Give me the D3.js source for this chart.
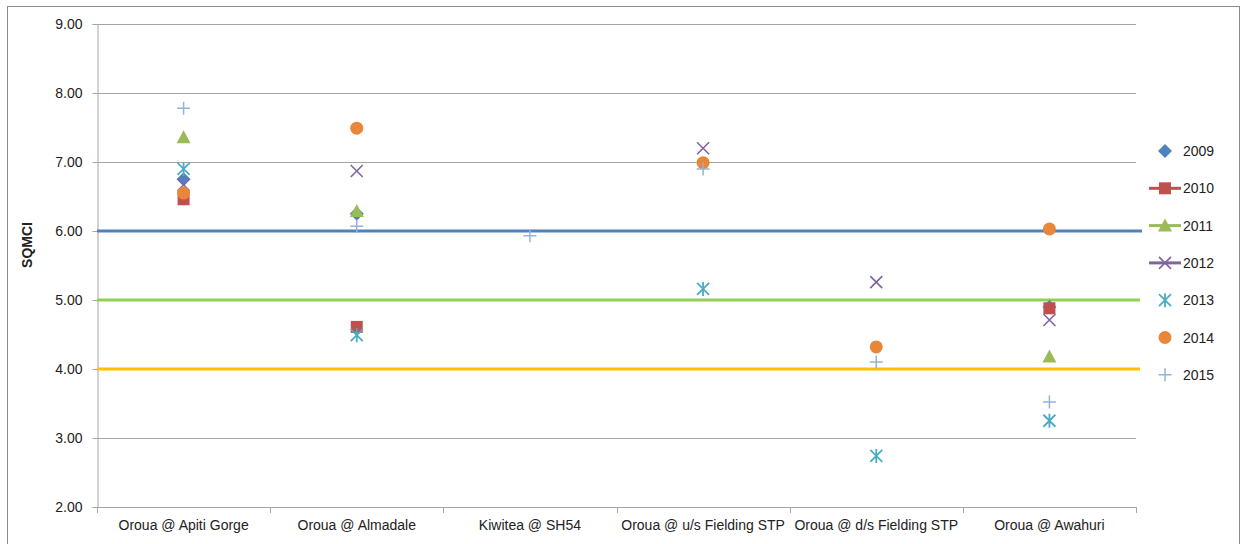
<!DOCTYPE html>
<html><head><meta charset="utf-8">
<script src="https://cdn.jsdelivr.net/npm/d3@7"></script>
<style>
html,body{margin:0;padding:0;background:#fff;}
text{font-family:"Liberation Sans",Arial,sans-serif;fill:#222;}
</style></head>
<body><svg id="c" width="1244" height="544"></svg>
<script>
const categories = ["Oroua @ Apiti Gorge","Oroua @ Almadale","Kiwitea @ SH54","Oroua @ u/s Fielding STP","Oroua @ d/s Fielding STP","Oroua @ Awahuri"];
const years = ["2009","2010","2011","2012","2013","2014","2015"];
const v2009 = [6.75, 6.25, null, null, null, 4.90];
const v2010 = [6.46, 4.61, null, null, null, 4.88];
const v2011 = [7.36, 6.29, null, null, null, 4.18];
const v2012 = [6.67, 6.87, null, 7.20, 5.26, 4.71];
const v2013 = [6.90, 4.49, null, 5.16, 2.74, 3.25];
const v2014 = [6.55, 7.49, null, 6.99, 4.32, 6.03];
const v2015 = [7.78, 6.07, 5.93, 6.90, 4.10, 3.52];
const yTicks = [2,3,4,5,6,7,8,9];
const refValues = [6, 5, 4];

const seriesValues = [v2009,v2010,v2011,v2012,v2013,v2014,v2015];
const colors = ["#4F81BD","#C0504D","#9BBB59","#8064A2","#4BACC6","#E8863A","#95B3D7"];
const shapes = ["diamond","square","triangle","x","asterisk","circle","plus"];
const refColors = ["#4F81BD","#92D050","#FFC000"];
const legendLine = [false,true,true,true,false,false,false];

const svg = d3.select("#c");
const L=97, R=1136, T=24, B=507;

// outer border
svg.append("rect").attr("x",7.5).attr("y",6.5).attr("width",1232).attr("height",560)
  .attr("fill","none").attr("stroke","#8c8c8c").attr("stroke-width",1);

const x = d3.scaleBand().domain(categories).range([L,R]).padding(0);
const y = d3.scaleLinear().domain([2,9]).range([B,T]);

// gridlines
svg.append("g").selectAll("line").data(yTicks.filter(d=>d>2)).join("line")
  .attr("x1",L).attr("x2",R).attr("y1",d=>Math.round(y(d))+0.5).attr("y2",d=>Math.round(y(d))+0.5)
  .attr("stroke","#a6a6a6").attr("stroke-width",1);

// y axis
const ya = svg.append("g").attr("transform",`translate(${L+0.5},0)`)
  .call(d3.axisLeft(y).tickValues(yTicks).tickFormat(d3.format(".2f")).tickSize(5).tickPadding(10));
ya.select(".domain").attr("stroke","#a6a6a6");
ya.selectAll(".tick line").attr("stroke","#a6a6a6");
ya.selectAll("text").attr("font-size",14).attr("font-family","Liberation Sans, Arial").attr("fill","#222");

// x axis
const xa = svg.append("g").attr("transform",`translate(0,${B+0.5})`)
  .call(d3.axisBottom(x).tickSize(0).tickPadding(13));
xa.select(".domain").attr("stroke","#a6a6a6").attr("d",`M${L},0H${R}`);
xa.selectAll("text").attr("font-size",14).attr("font-family","Liberation Sans, Arial").attr("fill","#222");
// category boundary ticks
svg.append("g").selectAll("line").data(d3.range(categories.length+1)).join("line")
  .attr("x1",i=>Math.round(L+i*x.step())+0.5).attr("x2",i=>Math.round(L+i*x.step())+0.5)
  .attr("y1",B).attr("y2",B+6).attr("stroke","#a6a6a6");

// axis title
svg.append("text").attr("transform","translate(32,245) rotate(-90)").attr("text-anchor","middle")
  .attr("font-size",14).attr("font-weight","bold").attr("fill","#111").text("SQMCI");

// reference lines
svg.append("g").selectAll("line").data(refValues).join("line")
  .attr("x1",L).attr("x2",(d,i)=>i===0?1142:1140)
  .attr("y1",d=>y(d)).attr("y2",d=>y(d))
  .attr("stroke",(d,i)=>refColors[i]).attr("stroke-width",3);

function marker(g, shape, color){
  if(shape==="diamond") g.append("path").attr("d","M0,-7L7,0L0,7L-7,0Z").attr("fill",color);
  else if(shape==="square") g.append("rect").attr("x",-6).attr("y",-6).attr("width",12).attr("height",12).attr("fill",color);
  else if(shape==="triangle") g.append("path").attr("d","M0,-7L7,6L-7,6Z").attr("fill",color);
  else if(shape==="circle") g.append("circle").attr("r",6.5).attr("fill",color);
  else if(shape==="x") g.append("path").attr("d","M-6,-6L6,6M6,-6L-6,6").attr("stroke",color).attr("stroke-width",1.6).attr("fill","none");
  else if(shape==="plus") g.append("path").attr("d","M-6.5,0H6.5M0,-6.5V6.5").attr("stroke",color).attr("stroke-width",1.5).attr("fill","none");
  else if(shape==="asterisk") g.append("path").attr("d","M-6,-6L6,6M6,-6L-6,6M0,-7V7").attr("stroke",color).attr("stroke-width",1.8).attr("fill","none");
}

// points
seriesValues.forEach((vals,si)=>{
  const gs = svg.append("g");
  vals.forEach((v,ci)=>{
    if(v==null) return;
    const g = gs.append("g").attr("transform",`translate(${x(categories[ci])+x.bandwidth()/2},${y(v)})`);
    marker(g, shapes[si], colors[si]);
  });
});

// legend
const lg = svg.append("g");
years.forEach((yr,i)=>{
  const cy = 151 + i*37.3;
  const g = lg.append("g").attr("transform",`translate(1165,${cy})`);
  if(legendLine[i]) g.append("line").attr("x1",-16).attr("x2",16).attr("y1",0).attr("y2",0).attr("stroke",colors[i]).attr("stroke-width",3);
  marker(g, shapes[i], colors[i]);
  lg.append("text").attr("x",1183).attr("y",cy+5).attr("font-size",14).attr("fill","#222").text(yr);
});
</script></body></html>
